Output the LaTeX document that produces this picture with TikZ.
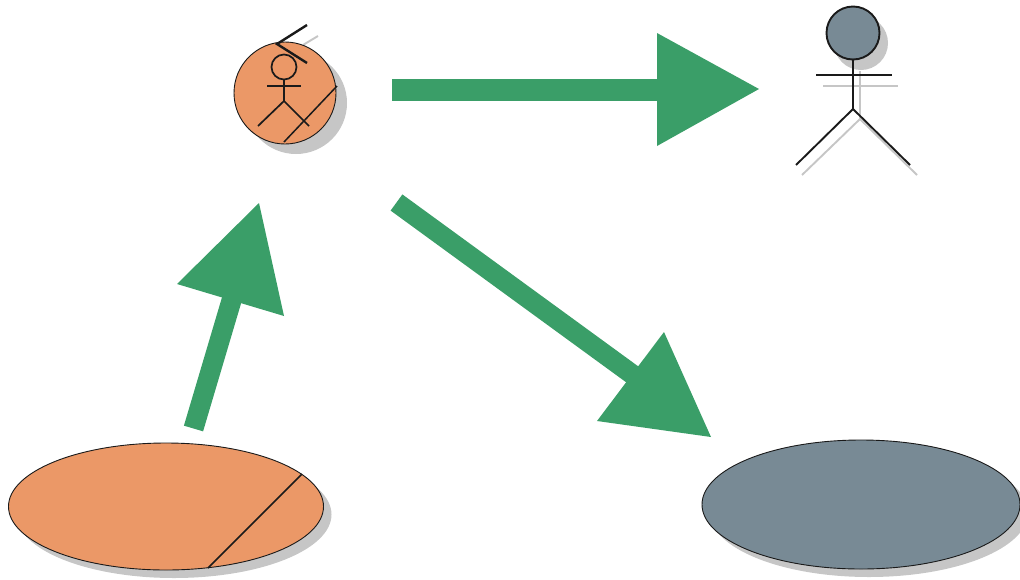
\documentclass[tikz,border=0pt]{standalone}
\usetikzlibrary{shapes.geometric}
\definecolor{orangefill}{HTML}{EB9867}
\definecolor{slatefill}{HTML}{788A95}
\definecolor{arrowgreen}{HTML}{3A9E68}
\definecolor{shadowgrey}{HTML}{C6C6C6}
\definecolor{inkline}{HTML}{1A1A1A}
\tikzset{
  ellbase/.style={ellipse,inner sep=0pt,outer sep=0pt,minimum width=#1},
  circbase/.style={circle,inner sep=0pt,outer sep=0pt,minimum size=#1},
  shaft/.style={draw=arrowgreen,line width=#1},
  head/.style={fill=arrowgreen},
  ink/.style={draw=inkline,line width=1.9pt},
  thin ink/.style={draw=inkline,line width=1.5pt},
  shadowline/.style={draw=shadowgrey,line width=1.9pt},
  outline/.style={draw=inkline,line width=0.9pt},
}
\begin{document}
\begin{tikzpicture}[x=1pt,y=-1pt]
\useasboundingbox (0,0) rectangle (1020,579);
% shadows
\node[ellbase=315pt,minimum height=127pt,fill=shadowgrey] (eoS) at (174,514.5) {};
\node[ellbase=318pt,minimum height=129pt,fill=shadowgrey] (egS) at (869,512.5) {};
\node[circbase=102pt,fill=shadowgrey] (coS) at (296,103) {};
\node[circbase=54pt,fill=shadowgrey] (hgS) at (861,43) {};
% small actor chevron shadow
\coordinate (chS1) at (318,36);
\coordinate (chS2) at (303,45);
\draw[shadowline] (chS1) -- (chS2);
% right actor shadow
\coordinate (sb1) at (860,71); \coordinate (sb2) at (860,119);
\coordinate (sa1) at (823,86); \coordinate (sa2) at (898,86);
\coordinate (sl1) at (802,175); \coordinate (sl2) at (917,175);
\draw[shadowline] (sb1) -- (sb2);
\draw[shadowline] (sa1) -- (sa2);
\draw[shadowline] (sl1) -- (sb2) -- (sl2);
% bodies
\node[ellbase=315pt,minimum height=127pt,fill=orangefill,outline] (eo) at (166,506.5) {};
\node[ellbase=318pt,minimum height=129pt,fill=slatefill,outline] (eg) at (861,504.5) {};
\node[circbase=102pt,fill=orangefill,outline] (co) at (285,93) {};
\node[circbase=53pt,fill=slatefill,ink] (hg) at (853,33) {};
% ellipse stripe
\coordinate (st1) at (208,568); \coordinate (st2) at (302,474);
\draw[thin ink] (st1) -- (st2);
% circle stripe
\coordinate (cs1) at (284,142); \coordinate (cs2) at (337,86);
\draw[thin ink] (cs1) -- (cs2);
% small actor
\node[circbase=25pt,draw=inkline,line width=1.7pt] (hs) at (284,67) {};
\coordinate (sbe) at (284,101);
\coordinate (sal) at (267,86); \coordinate (sar) at (301,86);
\coordinate (sll) at (258,126); \coordinate (slr) at (309,126);
\draw[thin ink,line width=1.7pt] (hs.south) -- (sbe);
\draw[thin ink,line width=1.7pt] (sal) -- (sar);
\draw[thin ink,line width=1.7pt] (sll) -- (sbe) -- (slr);
% chevron
\coordinate (ch1) at (307,25); \coordinate (ch2) at (277,44); \coordinate (ch3) at (307,63);
\draw[ink,line width=2.4pt,line join=miter] (ch1) -- (ch2) -- (ch3);
% right actor
\coordinate (bb) at (853,109);
\coordinate (al) at (816,75); \coordinate (ar) at (892,75);
\coordinate (ll) at (796,165); \coordinate (lr) at (910,165);
\draw[ink] (hg.south) -- (bb);
\draw[ink] (al) -- (ar);
\draw[ink] (ll) -- (bb) -- (lr);
% arrow 1
\coordinate (a1s) at (392,90); \coordinate (a1e) at (660,90);
\coordinate (a1h1) at (657,33); \coordinate (a1h2) at (759,89); \coordinate (a1h3) at (657,146);
\draw[shaft=22pt] (a1s) -- (a1e);
\fill[head] (a1h1) -- (a1h2) -- (a1h3) -- cycle;
% arrow 2
\coordinate (a2s) at (396.5,202.5); \coordinate (a2e) at (640,380);
\coordinate (a2h1) at (664,332); \coordinate (a2h2) at (711,437); \coordinate (a2h3) at (597,421);
\draw[shaft=20pt] (a2s) -- (a2e);
\fill[head] (a2h1) -- (a2h2) -- (a2h3) -- cycle;
% arrow 3
\coordinate (a3s) at (193.5,428.5); \coordinate (a3e) at (234,292);
\coordinate (a3h1) at (259,203); \coordinate (a3h2) at (284,316); \coordinate (a3h3) at (177,284);
\draw[shaft=20pt] (a3s) -- (a3e);
\fill[head] (a3h1) -- (a3h2) -- (a3h3) -- cycle;
\end{tikzpicture}
\end{document}
